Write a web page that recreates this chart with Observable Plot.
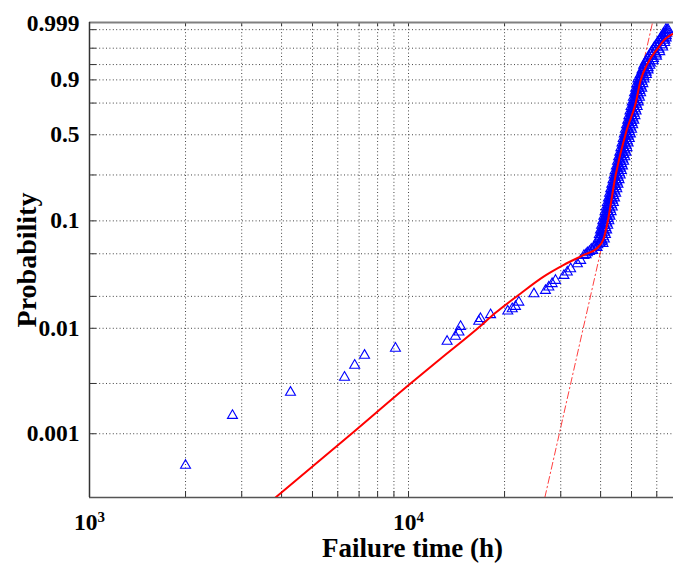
<!DOCTYPE html>
<html><head><meta charset="utf-8">
<script src="https://cdn.jsdelivr.net/npm/d3@7"></script>
<script src="https://cdn.jsdelivr.net/npm/@observablehq/plot@0.6"></script>
<style>
html,body{margin:0;padding:0;background:#fff;}
#chart svg{display:block;}
</style>
</head><body><div id="chart"></div>
<script>
// ---- data (failure time in hours, cumulative probability) ----
const earlyT = [2000, 2806, 4266, 6300, 6780, 7280, 9100, 13210, 14030, 14390, 14560, 16600, 16810, 18080,
  20470, 21140, 21640, 22170, 24730, 26870, 27530, 28200, 28890, 30700, 31460, 32220, 33830, 34640, 35480,
  36350, 38120, 40010, 36000, 36900, 37400, 38500, 39200, 39800, 40500, 37800, 39000, 40700];
const earlyP = [0.0005, 0.00149, 0.00247, 0.00343, 0.00446, 0.00554, 0.00646, 0.00751, 0.00838, 0.0092, 0.0104, 0.01161, 0.01232, 0.01341,
  0.01451, 0.01527, 0.01605, 0.01762, 0.0211, 0.0227, 0.0244, 0.0263, 0.0282, 0.0314, 0.0337, 0.0362, 0.0403, 0.0433, 0.0482,
  0.051, 0.0575, 0.064, 0.049, 0.0525, 0.055, 0.0585, 0.0605, 0.0625, 0.0655, 0.0535, 0.057, 0.062];

// dense steep part: probability levels with the times read at left / centre / right of the band
const bandP = [0.0682, 0.0751, 0.0827, 0.0910, 0.1000, 0.1100, 0.1208, 0.1326, 0.1455, 0.1595, 0.1747, 0.1912,
  0.2091, 0.2283, 0.2491, 0.2714, 0.2952, 0.3207, 0.3478, 0.3765, 0.4067, 0.4384, 0.4714, 0.5057, 0.5410,
  0.5771, 0.6137, 0.6505, 0.6870, 0.7231, 0.7581, 0.7916, 0.8233, 0.8528, 0.8796, 0.9036, 0.9247, 0.9426,
  0.9575, 0.9695, 0.9789, 0.9859, 0.9910, 0.9945, 0.99684, 0.99827, 0.99898];
const bandT = [
  [39330, 40210, 41100], [39650, 40540, 41430], [39980, 40880, 41780], [40300, 41210, 42120],
  [40640, 41550, 42460], [40970, 41890, 42810], [41310, 42240, 43170], [41640, 42580, 43520],
  [41990, 42930, 43870], [42340, 43290, 44240], [42680, 43640, 44600], [43030, 44000, 44970],
  [43380, 44360, 45340], [43750, 44730, 45710], [44100, 45090, 46080], [44470, 45470, 46470],
  [44830, 45840, 46850], [45200, 46220, 47240], [45570, 46600, 47630], [45950, 46980, 48010],
  [46320, 47360, 48400], [46700, 47750, 48800], [47080, 48140, 49200], [47470, 48540, 49610],
  [47860, 48940, 50020], [48250, 49340, 50420], [48660, 49750, 50840], [49060, 50160, 51260],
  [49460, 50570, 51680], [49860, 50980, 52100], [50270, 51400, 52530], [50680, 51820, 52960],
  [51100, 52250, 53400], [51520, 52680, 53840], [51940, 53110, 54280], [52370, 53550, 54730],
  [53260, 54460, 55660], [53930, 55140, 56350], [54590, 55820, 57050], [55520, 56770, 58470],
  [56630, 57900, 59900], [57750, 59050, 61300], [59000, 60290, 62600], [60330, 61690, 63500],
  [61660, 63050, 64200], [63000, 63880, 64500], [64000, 64570, 65100]];
const band2P = [0.07158, 0.07880, 0.08672, 0.09540, 0.10488, 0.11526, 0.12658, 0.13892, 0.15236, 0.16696,
  0.18283, 0.19999, 0.21853, 0.23848, 0.25994, 0.28311, 0.30780, 0.33407, 0.36194, 0.39135, 0.42239,
  0.45476, 0.48846, 0.52332, 0.55904, 0.59539, 0.63212, 0.66884, 0.70520, 0.74074, 0.77507, 0.80770,
  0.83833, 0.86651, 0.89200, 0.91455, 0.93401, 0.95043, 0.96387, 0.97450, 0.98268, 0.98870, 0.99295,
  0.99581, 0.99764];
const band2T = [
  [39930, 40810], [40260, 41160], [40600, 41500], [40930, 41840], [41260, 42180], [41600, 42520],
  [41940, 42880], [42280, 43220], [42640, 43580], [42980, 43940], [43340, 44300], [43690, 44670],
  [44050, 45030], [44420, 45400], [44780, 45780], [45150, 46150], [45520, 46540], [45900, 46920],
  [46280, 47300], [46650, 47690], [47030, 48070], [47410, 48470], [47810, 48870], [48200, 49280],
  [48600, 49680], [49000, 50090], [49400, 50500], [49810, 50910], [50210, 51330], [50630, 51750],
  [51040, 52180], [51460, 52600], [51880, 53040], [52310, 53470], [52740, 53920], [53410, 54750],
  [54000, 55600], [54600, 56400], [55300, 57300], [56300, 58600], [57400, 59800], [58600, 61000],
  [59900, 62300], [61300, 63600], [62800, 64300]];

// fitted mixture model (solid) and single component (dash-dot)
const fitT = [3829, 6627, 10145, 12600, 16460, 18740, 22460, 26370, 30670, 35440, 38900, 40790, 41900,
  44560, 48240, 51480, 53380, 56140, 60330, 63900, 67700];
const fitP = [0.000248, 0.001, 0.003, 0.00515, 0.00996, 0.0140, 0.0213, 0.0303, 0.0394, 0.0488, 0.0560,
  0.0674, 0.0917, 0.2472, 0.5322, 0.7463, 0.8965, 0.9626, 0.9896, 0.99658, 0.99823];
const compT = [26750, 58080];
const compP = [0.000248, 0.99962];

// axes
const xDomain = [1000, 67700];
const yDomainP = [0.000248, 0.99969];
const xGridT = [2000, 3000, 4000, 5000, 6000, 7000, 8000, 9000, 10000, 20000, 30000, 40000, 50000, 60000];
const xLabelT = [1000, 10000];
const yGridP = [0.001, 0.003, 0.01, 0.02, 0.05, 0.1, 0.25, 0.5, 0.75, 0.9, 0.96, 0.99, 0.999];
const yLabelP = [0.001, 0.01, 0.1, 0.5, 0.9];
const yTopLabelP = [0.999];

// ---- build ----
const weib = p => Math.log(-Math.log(1 - p));
const unweib = w => 1 - Math.exp(-Math.exp(w));
const pts = earlyT.map((t, i) => ({t, p: earlyP[i]}));
bandT.forEach((row, i) => row.forEach(t => pts.push({t, p: bandP[i]})));
band2T.forEach((row, i) => row.forEach(t => pts.push({t, p: band2P[i]})));
const fit = fitT.map((t, i) => ({t, p: fitP[i]}));
const comp = compT.map((t, i) => ({t, p: compP[i]}));

const serif = "'Liberation Serif', 'Times New Roman', serif";
const fmtP = w => String(+unweib(w).toPrecision(3));

const chart = Plot.plot({
  width: 673, height: 563,
  marginLeft: 89, marginRight: 0, marginTop: 22, marginBottom: 66,
  style: {fontFamily: serif, background: "#fff"},
  x: {type: "log", domain: xDomain, axis: null},
  y: {type: "linear", domain: yDomainP.map(weib), axis: null},
  marks: [
    Plot.ruleX(xGridT, {stroke: "#444", strokeDasharray: "1,2.4", strokeWidth: 1}),
    Plot.ruleY(yGridP, {y: weib, stroke: "#444", strokeDasharray: "1,2.4", strokeWidth: 1}),
    Plot.ruleX(xGridT, {stroke: "#333", insetTop: 469}),
    Plot.ruleX(xGridT, {stroke: "#333", insetBottom: 471}),
    Plot.ruleY(yGridP, {y: weib, stroke: "#333", insetRight: 577}),
    Plot.ruleY([yDomainP[1]], {y: weib, stroke: "#808080", strokeWidth: 2}),
    Plot.ruleY([yDomainP[0]], {y: weib, stroke: "#555", strokeWidth: 1.5}),
    Plot.ruleX([xDomain[0]], {stroke: "#333", strokeWidth: 1.5}),
    Plot.line(comp, {x: "t", y: d => weib(d.p), stroke: "#ff0000", strokeOpacity: 0.75, strokeWidth: 1, strokeDasharray: "7,3,1.5,3", clip: true}),
    Plot.dot(pts, {x: "t", y: d => weib(d.p), symbol: "triangle", r: 3.7, stroke: "#0000ff", fill: "none", strokeWidth: 1.1, clip: true}),
    Plot.line(fit, {x: "t", y: d => weib(d.p), stroke: "#ff0000", strokeWidth: 2, curve: "monotone-x", clip: true}),
    Plot.axisY({ticks: yLabelP.map(weib), tickSize: 0, tickPadding: 10, tickFormat: fmtP, label: null, fontSize: 23.5, fontWeight: "bold"}),
    Plot.axisY({ticks: yTopLabelP.map(weib), tickSize: 0, tickPadding: 10, tickFormat: fmtP, label: null, fontSize: 23.5, fontWeight: "bold", dy: -6}),
    Plot.axisX({ticks: xLabelT, tickSize: 0, tickPadding: 16, tickFormat: t => "10^" + Math.round(Math.log10(t)), label: null, fontSize: 23.5, fontWeight: "bold"}),
    Plot.text(["Failure time (h)"], {frameAnchor: "bottom", lineAnchor: "middle", textAnchor: "middle", dx: 31, dy: 51, fontSize: 27, fontWeight: "bold", fill: "#000"}),
    Plot.text(["Probability"], {frameAnchor: "left", lineAnchor: "middle", textAnchor: "middle", dx: -62, rotate: -90, fontSize: 28, fontWeight: "bold", fill: "#000"})
  ]
});

// superscript exponents on the x tick labels
chart.querySelectorAll('g[aria-label="x-axis tick label"] text').forEach(t => {
  const s = t.textContent;
  if (!s.includes("^")) return;
  const [b, e] = s.split("^");
  t.textContent = b;
  const ts = document.createElementNS("http://www.w3.org/2000/svg", "tspan");
  ts.setAttribute("dy", "-8");
  ts.setAttribute("font-size", "15");
  ts.textContent = e;
  t.appendChild(ts);
});
document.getElementById("chart").appendChild(chart);
</script>
</body></html>
